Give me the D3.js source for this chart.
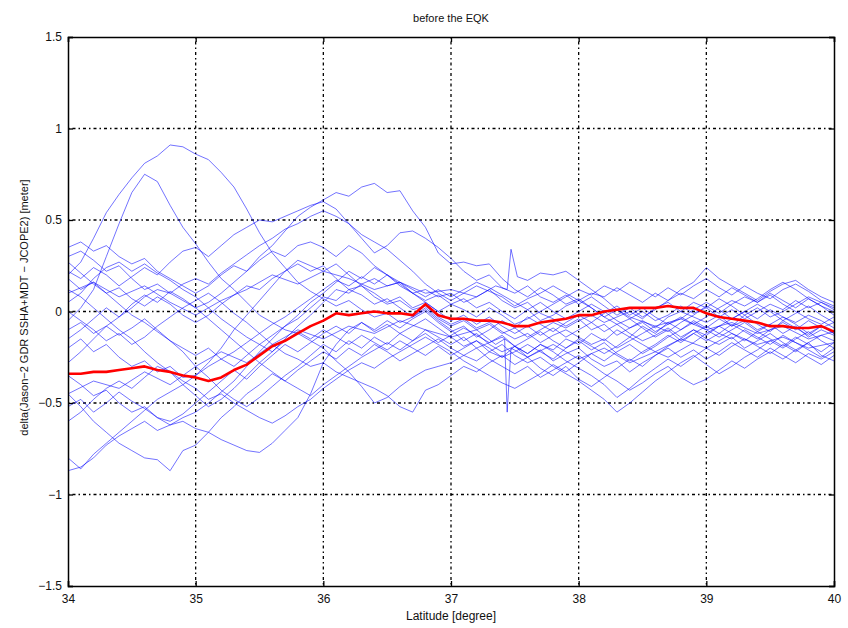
<!DOCTYPE html>
<html>
<head>
<meta charset="utf-8">
<script src="https://cdn.jsdelivr.net/npm/d3@7"></script>
<style>
  body { margin: 0; background: #fff; }
  svg { display: block; font-family: "Liberation Sans", Arial, sans-serif; }
</style>
</head>
<body>
<div id="chart"></div>
<script>
// ---------------- DATA ----------------
const lat = [
  34.0,34.1,34.2,34.3,34.4,34.5,34.6,34.7,34.8,34.9,
  35.0,35.1,35.2,35.3,35.4,35.5,35.6,35.7,35.8,35.9,
  36.0,36.1,36.2,36.3,36.4,36.5,36.6,36.7,36.8,36.9,
  37.0,37.1,37.2,37.3,37.4,37.5,37.6,37.7,37.8,37.9,
  38.0,38.1,38.2,38.3,38.4,38.5,38.6,38.7,38.8,38.9,
  39.0,39.1,39.2,39.3,39.4,39.5,39.6,39.7,39.8,39.9,
  40.0
];

const xTicks = [34, 35, 36, 37, 38, 39, 40];
const yTicks = [-1.5, -1, -0.5, 0, 0.5, 1, 1.5];

// individual passes (blue), one value per lat
const t01 = [0.20,0.27,0.40,0.54,0.64,0.73,0.81,0.85,0.91,0.90, 0.86,0.83,0.76,0.68,0.56,0.43,0.32,0.24,0.16,0.11, 0.07,0.03,0.06,0.01,-0.03,-0.01,-0.06,-0.03,0.02,-0.04, -0.08,-0.05,-0.10,-0.07,-0.12,-0.09,-0.14,-0.10,-0.06,-0.09, -0.05,-0.02,-0.06,-0.03,0.00,-0.04,0.02,0.05,0.00,-0.03, -0.06,-0.02,-0.08,-0.05,-0.10,-0.07,-0.12,-0.08,-0.14,-0.10, -0.13];
const t02 = [-0.05,0.02,0.12,0.30,0.48,0.65,0.75,0.71,0.58,0.46, 0.37,0.27,0.18,0.12,0.05,-0.02,-0.06,-0.10,-0.12,-0.16, -0.20,-0.27,-0.33,-0.41,-0.50,-0.47,-0.41,-0.36,-0.32,-0.30, -0.28,-0.24,-0.27,-0.22,-0.25,-0.19,-0.23,-0.18,-0.21,-0.15, -0.18,-0.12,-0.16,-0.10,-0.14,-0.08,-0.12,-0.06,-0.10,-0.05, -0.09,-0.04,-0.08,-0.02,-0.07,-0.11,-0.05,-0.09,-0.13,-0.08, -0.12];
const t03 = [0.30,0.33,0.28,0.22,0.25,0.18,0.12,0.15,0.10,0.06, 0.02,0.05,0.10,0.16,0.22,0.30,0.36,0.44,0.52,0.57, 0.61,0.65,0.63,0.68,0.70,0.65,0.66,0.55,0.46,0.32, 0.26,0.27,0.25,0.26,0.18,0.12,0.08,0.13,0.09,0.04, 0.07,0.02,-0.03,0.01,-0.04,0.00,-0.05,-0.02,0.03,-0.01, 0.02,-0.03,0.01,-0.04,0.00,0.04,0.01,0.06,0.02,0.05, 0.01];
const t04 = [0.22,0.18,0.24,0.20,0.14,0.19,0.24,0.20,0.27,0.33, 0.35,0.30,0.36,0.42,0.46,0.50,0.49,0.52,0.55,0.58, 0.60,0.56,0.48,0.40,0.32,0.36,0.43,0.44,0.40,0.35, 0.29,0.22,0.17,0.20,0.13,0.10,0.14,0.08,0.05,0.09, 0.04,0.08,0.03,-0.02,0.02,-0.03,0.01,0.06,0.10,0.07, 0.12,0.08,0.13,0.09,0.05,0.10,0.06,0.02,0.07,0.03, -0.02];
const t05 = [0.35,0.38,0.33,0.36,0.30,0.26,0.29,0.22,0.18,0.14, 0.10,0.14,0.20,0.25,0.22,0.28,0.33,0.30,0.36,0.38, 0.35,0.30,0.36,0.32,0.25,0.20,0.14,0.10,0.06,0.09, 0.04,0.07,0.02,0.05,0.00,-0.04,0.01,-0.05,-0.02,0.03, 0.06,0.10,0.08,0.13,0.09,0.05,0.10,0.06,0.12,0.16, 0.24,0.18,0.14,0.10,0.06,0.11,0.15,0.17,0.12,0.08, 0.05];
const t06 = [0.18,0.12,0.16,0.10,0.13,0.07,0.03,0.08,0.04,-0.02, -0.06,-0.02,0.04,0.09,0.14,0.12,0.18,0.22,0.26,0.22, 0.25,0.18,0.12,0.14,0.08,0.04,0.06,0.01,0.03,-0.03, -0.07,-0.04,-0.09,-0.06,-0.11,-0.15,-0.12,-0.17,-0.13,-0.10, -0.14,-0.18,-0.15,-0.20,-0.16,-0.12,-0.08,-0.11,-0.06,-0.02, 0.03,-0.01,0.04,0.08,0.05,0.09,0.04,0.00,-0.04,-0.07, -0.03];
const t07 = [0.12,0.08,0.02,-0.04,-0.10,-0.15,-0.22,-0.28,-0.33,-0.40, -0.46,-0.52,-0.48,-0.42,-0.35,-0.28,-0.22,-0.15,-0.08,-0.02, 0.05,0.12,0.10,0.15,0.18,0.14,0.16,0.10,0.12,0.08, 0.10,0.05,0.08,0.12,0.06,0.02,0.05,-0.01,-0.04,-0.08, -0.04,-0.10,-0.07,-0.13,-0.09,-0.05,-0.09,-0.03,0.00,0.05, 0.02,0.07,0.03,-0.02,0.02,-0.03,0.00,0.04,0.08,0.05, 0.02];
const t08 = [0.05,0.10,0.18,0.24,0.27,0.22,0.26,0.21,0.17,0.12, 0.08,0.02,-0.04,-0.09,-0.14,-0.18,-0.13,-0.08,-0.04,0.02, 0.08,0.06,0.12,0.09,0.04,0.07,0.02,-0.03,0.01,-0.05, -0.10,-0.16,-0.12,-0.18,-0.22,-0.19,-0.25,-0.21,-0.27,-0.23, -0.20,-0.26,-0.30,-0.27,-0.33,-0.28,-0.24,-0.19,-0.15,-0.10, -0.13,-0.08,-0.12,-0.16,-0.11,-0.15,-0.19,-0.14,-0.18,-0.22, -0.17];
const t09 = [0.00,-0.05,-0.10,-0.16,-0.12,-0.18,-0.14,-0.08,-0.03,0.02, 0.06,0.10,0.05,-0.01,-0.06,-0.12,-0.18,-0.23,-0.26,-0.30, -0.28,-0.33,-0.36,-0.39,-0.42,-0.46,-0.52,-0.55,-0.43,-0.40, -0.35,-0.30,-0.33,-0.28,-0.24,-0.29,-0.25,-0.31,-0.35,-0.30, -0.37,-0.41,-0.36,-0.31,-0.26,-0.30,-0.24,-0.20,-0.25,-0.21, -0.26,-0.22,-0.17,-0.21,-0.25,-0.20,-0.24,-0.28,-0.23,-0.26, -0.22];
const t10 = [-0.10,-0.06,-0.12,-0.08,-0.03,0.02,0.08,0.12,0.10,0.15, 0.18,0.15,0.21,0.26,0.31,0.36,0.40,0.45,0.48,0.52, 0.55,0.52,0.48,0.42,0.38,0.34,0.28,0.22,0.15,0.10, 0.06,0.10,0.14,0.11,0.08,0.03,0.07,0.10,0.14,0.10, 0.06,0.02,-0.03,-0.07,-0.04,-0.09,-0.14,-0.10,-0.16,-0.12, -0.08,-0.12,-0.07,-0.11,-0.15,-0.10,-0.06,-0.10,-0.05,-0.09, -0.06];
const t11 = [-0.20,-0.15,-0.22,-0.18,-0.25,-0.30,-0.27,-0.33,-0.30,-0.36, -0.35,-0.28,-0.20,-0.10,-0.02,0.06,0.14,0.22,0.28,0.25, 0.22,0.26,0.20,0.14,0.10,0.05,0.08,0.02,0.05,0.00, -0.05,-0.02,-0.07,-0.03,-0.08,-0.12,-0.08,-0.13,-0.09,-0.14, -0.10,-0.06,-0.11,-0.07,-0.12,-0.16,-0.13,-0.09,-0.14,-0.10, -0.15,-0.18,-0.14,-0.20,-0.16,-0.12,-0.17,-0.21,-0.17,-0.24, -0.27];
const t12 = [-0.28,-0.22,-0.15,-0.08,-0.13,-0.09,-0.04,-0.10,-0.16,-0.22, -0.30,-0.36,-0.43,-0.48,-0.52,-0.47,-0.41,-0.35,-0.30,-0.24, -0.18,-0.22,-0.16,-0.20,-0.14,-0.18,-0.12,-0.16,-0.10,-0.14, -0.18,-0.14,-0.20,-0.17,-0.13,-0.19,-0.23,-0.18,-0.22,-0.27, -0.31,-0.35,-0.40,-0.47,-0.42,-0.36,-0.31,-0.26,-0.30,-0.25, -0.20,-0.24,-0.19,-0.15,-0.19,-0.23,-0.18,-0.22,-0.17,-0.13, -0.16];
const t13 = [-0.35,-0.40,-0.46,-0.43,-0.50,-0.55,-0.52,-0.58,-0.60,-0.56, -0.50,-0.44,-0.38,-0.32,-0.37,-0.30,-0.24,-0.18,-0.22,-0.17, -0.12,-0.08,-0.12,-0.06,-0.10,-0.05,-0.09,-0.04,0.00,-0.06, -0.11,-0.08,-0.14,-0.10,-0.05,-0.09,-0.03,-0.07,-0.11,-0.06, -0.02,-0.06,-0.01,0.03,-0.02,0.02,-0.03,-0.07,-0.04,0.01, 0.05,0.01,-0.04,0.00,0.04,0.00,-0.05,-0.01,0.03,-0.02, -0.06];
const t14 = [-0.45,-0.52,-0.60,-0.66,-0.72,-0.76,-0.80,-0.81,-0.87,-0.76, -0.73,-0.66,-0.58,-0.52,-0.45,-0.40,-0.34,-0.38,-0.32,-0.27, -0.22,-0.26,-0.20,-0.24,-0.18,-0.22,-0.27,-0.23,-0.19,-0.15, -0.20,-0.24,-0.20,-0.26,-0.30,-0.34,-0.30,-0.36,-0.32,-0.28, -0.24,-0.29,-0.34,-0.38,-0.43,-0.39,-0.34,-0.30,-0.36,-0.40, -0.37,-0.32,-0.27,-0.31,-0.26,-0.22,-0.26,-0.21,-0.25,-0.29, -0.24];
const t15 = [-0.52,-0.48,-0.55,-0.50,-0.44,-0.49,-0.53,-0.58,-0.62,-0.60, -0.64,-0.66,-0.70,-0.73,-0.76,-0.77,-0.72,-0.65,-0.58,-0.45, -0.28,-0.18,-0.10,-0.06,-0.11,-0.07,-0.12,-0.08,-0.04,-0.09, -0.14,-0.19,-0.16,-0.22,-0.18,-0.24,-0.28,-0.25,-0.30,-0.34, -0.38,-0.43,-0.48,-0.55,-0.50,-0.44,-0.38,-0.33,-0.28,-0.24, -0.29,-0.34,-0.30,-0.25,-0.21,-0.16,-0.20,-0.15,-0.11,-0.16, -0.20];
const t16 = [-0.60,-0.55,-0.48,-0.42,-0.38,-0.42,-0.36,-0.30,-0.33,-0.38, -0.42,-0.48,-0.45,-0.50,-0.54,-0.58,-0.61,-0.57,-0.52,-0.48, -0.42,-0.37,-0.32,-0.28,-0.31,-0.26,-0.22,-0.18,-0.14,-0.18, -0.22,-0.27,-0.31,-0.35,-0.39,-0.42,-0.38,-0.34,-0.29,-0.33, -0.28,-0.23,-0.27,-0.22,-0.18,-0.23,-0.19,-0.14,-0.10,-0.06, -0.10,-0.14,-0.10,-0.06,-0.11,-0.07,-0.03,-0.07,-0.12,-0.08, -0.12];
const t17 = [-0.80,-0.86,-0.78,-0.72,-0.66,-0.60,-0.54,-0.48,-0.44,-0.40, -0.35,-0.30,-0.26,-0.30,-0.24,-0.18,-0.22,-0.16,-0.11,-0.15, -0.10,-0.14,-0.18,-0.13,-0.17,-0.21,-0.16,-0.20,-0.24,-0.19, -0.24,-0.20,-0.16,-0.20,-0.25,-0.22,-0.18,-0.22,-0.26,-0.20, -0.15,-0.19,-0.23,-0.19,-0.14,-0.18,-0.22,-0.25,-0.21,-0.17, -0.12,-0.08,-0.04,0.00,-0.04,0.01,-0.03,-0.06,-0.02,-0.05, -0.09];
const t18 = [-0.87,-0.85,-0.80,-0.73,-0.68,-0.64,-0.60,-0.65,-0.62,-0.58, -0.55,-0.50,-0.44,-0.38,-0.30,-0.22,-0.15,-0.08,-0.02,0.05, 0.10,0.16,0.22,0.18,0.24,0.20,0.15,0.10,0.05,0.00, 0.04,0.01,-0.03,0.02,-0.02,-0.07,-0.04,0.00,0.04,0.08, 0.12,0.09,0.14,0.11,0.16,0.12,0.08,0.13,0.09,0.14, 0.18,0.13,0.09,0.14,0.10,0.07,0.12,0.15,0.11,0.06, 0.03];
const t19 = [-0.15,-0.10,-0.04,0.02,-0.03,0.04,0.09,0.05,0.11,0.07, 0.02,-0.04,-0.10,-0.16,-0.22,-0.28,-0.33,-0.38,-0.42,-0.46, -0.40,-0.35,-0.30,-0.25,-0.21,-0.17,-0.21,-0.16,-0.12,-0.17, -0.13,-0.09,-0.13,-0.17,-0.14,-0.19,-0.15,-0.11,-0.16,-0.20, -0.16,-0.21,-0.17,-0.23,-0.27,-0.22,-0.18,-0.13,-0.17,-0.12, -0.16,-0.12,-0.15,-0.10,-0.14,-0.18,-0.13,-0.17,-0.21,-0.25, -0.20];
const t20 = [0.27,0.21,0.15,0.10,0.04,-0.02,-0.06,-0.11,-0.16,-0.20, -0.24,-0.20,-0.26,-0.22,-0.17,-0.12,-0.07,-0.03,0.02,0.07, 0.12,0.17,0.14,0.19,0.15,0.20,0.16,0.12,0.08,0.12, 0.08,0.12,0.16,0.13,0.09,0.05,0.01,0.05,0.00,-0.04, 0.00,0.04,0.00,-0.05,-0.09,-0.06,-0.11,-0.07,-0.03,-0.07, -0.03,0.02,0.06,0.03,0.07,0.12,0.16,0.12,0.07,0.03, 0.00];

// two passes with a one-sample glitch near 37.45 (own lat sampling)
const spikeUp = [[34.0,0.10],[34.2,0.16],[34.4,0.08],[34.6,0.14],[34.8,0.05],[35.0,-0.02],[35.2,0.06],[35.4,0.12],[35.6,0.20],[35.8,0.15],[36.0,0.22],[36.2,0.18],[36.4,0.12],[36.6,0.16],[36.8,0.10],[37.0,0.12],[37.2,0.08],[37.35,0.14],[37.44,0.12],[37.47,0.34],[37.52,0.19],[37.6,0.17],[37.7,0.21],[37.8,0.20],[37.9,0.22],[38.0,0.17],[38.1,0.12],[38.2,0.07],[38.3,0.01],[38.4,-0.03],[38.6,-0.08],[38.8,-0.04],[39.0,-0.10],[39.2,-0.06],[39.4,-0.12],[39.6,-0.08],[39.8,-0.15],[40.0,-0.11]];
const spikeDown = [[34.0,-0.45],[34.2,-0.38],[34.4,-0.42],[34.6,-0.33],[34.8,-0.40],[35.0,-0.30],[35.2,-0.22],[35.4,-0.28],[35.6,-0.18],[35.8,-0.10],[36.0,-0.15],[36.2,-0.08],[36.4,-0.12],[36.6,-0.05],[36.8,-0.10],[37.0,-0.14],[37.2,-0.10],[37.35,-0.18],[37.42,-0.15],[37.44,-0.55],[37.47,-0.20],[37.6,-0.25],[37.8,-0.18],[38.0,-0.26],[38.2,-0.20],[38.4,-0.28],[38.6,-0.22],[38.8,-0.15],[39.0,-0.20],[39.2,-0.12],[39.4,-0.18],[39.6,-0.14],[39.8,-0.20],[40.0,-0.17]];

// mean of all passes (red)
const meanTrack = [-0.34,-0.34,-0.33,-0.33,-0.32,-0.31,-0.30,-0.32,-0.33,-0.35, -0.36,-0.38,-0.36,-0.32,-0.29,-0.24,-0.19,-0.16,-0.12,-0.08, -0.05,-0.01,-0.02,-0.01,0.00,-0.01,-0.01,-0.02,0.04,-0.02, -0.04,-0.04,-0.05,-0.05,-0.06,-0.08,-0.08,-0.06,-0.05,-0.04, -0.02,-0.02,0.00,0.01,0.02,0.02,0.02,0.03,0.02,0.02, -0.01,-0.03,-0.04,-0.05,-0.06,-0.08,-0.08,-0.09,-0.09,-0.08, -0.11];

const tracks = [t01,t02,t03,t04,t05,t06,t07,t08,t09,t10,t11,t12,t13,t14,t15,t16,t17,t18,t19,t20];

// ---------------- CHART ----------------
const width = 848, height = 628;
const margin = {top: 37, right: 14, bottom: 42, left: 68};
const innerW = width - margin.left - margin.right;
const innerH = height - margin.top - margin.bottom;

const svg = d3.select("#chart").append("svg")
  .attr("width", width)
  .attr("height", height);

const x = d3.scaleLinear().domain([34, 40]).range([margin.left, margin.left + innerW]);
const y = d3.scaleLinear().domain([-1.5, 1.5]).range([margin.top + innerH, margin.top]);

svg.append("clipPath").attr("id", "plot-clip")
  .append("rect")
  .attr("x", margin.left).attr("y", margin.top)
  .attr("width", innerW).attr("height", innerH);

// grid (MATLAB style dotted)
const grid = svg.append("g").attr("stroke", "#000").attr("stroke-width", 1.3)
  .attr("stroke-dasharray", "1.5,3,3,3");
grid.selectAll("line.gx").data(xTicks.slice(1, -1)).join("line")
  .attr("x1", d => x(d)).attr("x2", d => x(d))
  .attr("y1", margin.top).attr("y2", margin.top + innerH);
grid.selectAll("line.gy").data(yTicks.slice(1, -1)).join("line")
  .attr("y1", d => y(d)).attr("y2", d => y(d))
  .attr("x1", margin.left).attr("x2", margin.left + innerW);

const line = d3.line().x(d => x(d[0])).y(d => y(d[1]));
const plot = svg.append("g").attr("clip-path", "url(#plot-clip)");

// blue passes
plot.selectAll("path.pass")
  .data(tracks.map(t => t.map((v, i) => [lat[i], v])).concat([spikeUp, spikeDown]))
  .join("path")
  .attr("class", "pass")
  .attr("fill", "none")
  .attr("stroke", "#0000ff")
  .attr("stroke-opacity", 0.55)
  .attr("stroke-width", 1)
  .attr("d", line);

// red mean
plot.append("path")
  .datum(meanTrack.map((v, i) => [lat[i], v]))
  .attr("fill", "none")
  .attr("stroke", "#ff0000")
  .attr("stroke-width", 2.6)
  .attr("stroke-linejoin", "round")
  .attr("d", line);

// axes box with inward ticks on all four sides
const tickLen = 5;
const tickFmt = d => d3.format("")(d).replace("-", "\u2212");

const axBottom = svg.append("g").attr("transform", `translate(0,${margin.top + innerH})`)
  .call(d3.axisBottom(x).tickValues(xTicks).tickSize(-tickLen).tickPadding(8).tickFormat(tickFmt));
const axTop = svg.append("g").attr("transform", `translate(0,${margin.top})`)
  .call(d3.axisTop(x).tickValues(xTicks).tickSize(-tickLen).tickFormat(""));
const axLeft = svg.append("g").attr("transform", `translate(${margin.left},0)`)
  .call(d3.axisLeft(y).tickValues(yTicks).tickSize(-tickLen).tickPadding(6).tickFormat(tickFmt));
const axRight = svg.append("g").attr("transform", `translate(${margin.left + innerW},0)`)
  .call(d3.axisRight(y).tickValues(yTicks).tickSize(-tickLen).tickFormat(""));

[axBottom, axTop, axLeft, axRight].forEach(g => {
  g.select(".domain").attr("stroke", "#000").attr("stroke-width", 1.5);
  g.selectAll(".tick line").attr("stroke", "#000").attr("stroke-width", 1.3);
  g.selectAll("text").attr("font-size", 12).attr("fill", "#111")
    .attr("font-family", "'Liberation Sans', Arial, sans-serif");
});

// titles
svg.append("text")
  .attr("x", margin.left + innerW / 2).attr("y", 22)
  .attr("text-anchor", "middle").attr("font-size", 11).attr("fill", "#111")
  .text("before the EQK");

svg.append("text")
  .attr("x", margin.left + innerW / 2).attr("y", 620)
  .attr("text-anchor", "middle").attr("font-size", 12).attr("fill", "#111")
  .text("Latitude [degree]");

svg.append("text")
  .attr("transform", `translate(28,${margin.top + innerH / 2 - 4}) rotate(-90)`)
  .attr("text-anchor", "middle").attr("font-size", 11).attr("fill", "#111")
  .text("delta(Jason\u22122 GDR SSHA+MDT \u2212 JCOPE2) [meter]");
</script>
</body>
</html>
